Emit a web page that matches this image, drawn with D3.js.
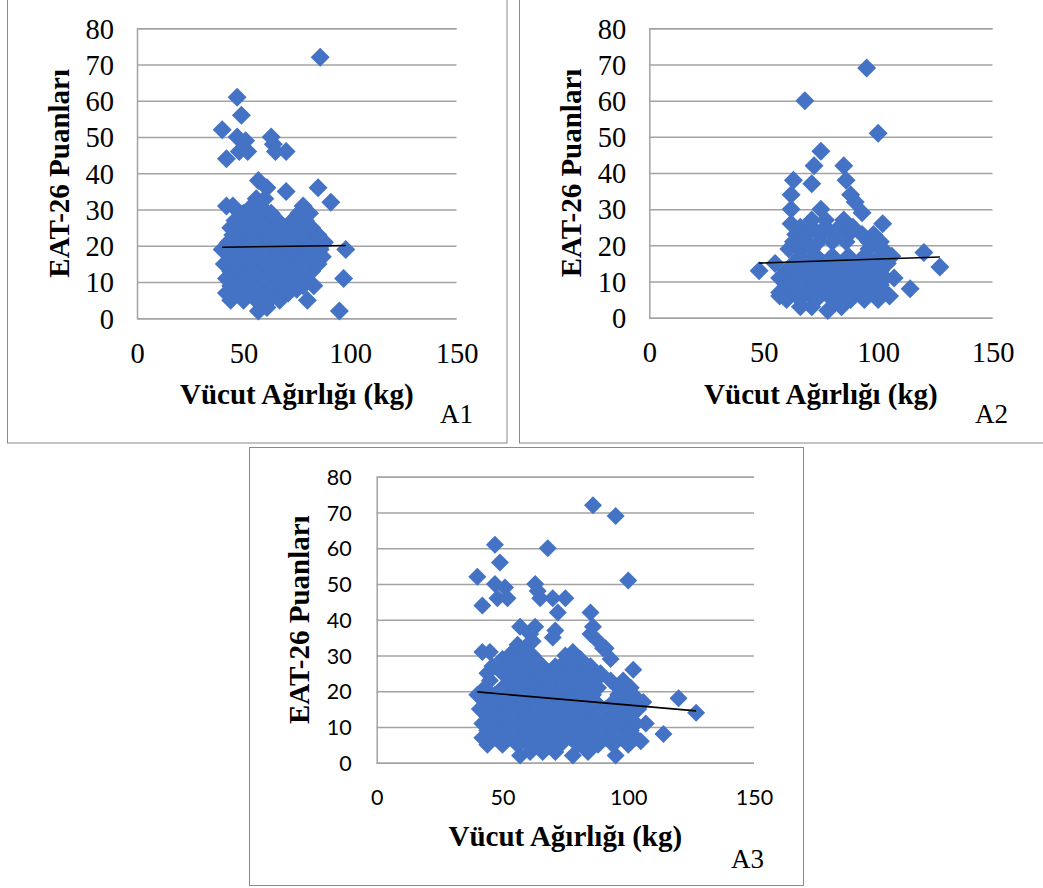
<!DOCTYPE html>
<html>
<head>
<meta charset="utf-8">
<script src="https://cdn.jsdelivr.net/npm/d3@7"></script>
<style>
  body { margin: 0; background: #ffffff; }
  svg { display: block; }
</style>
</head>
<body>
<svg id="chart" width="1043" height="888"></svg>
<script>
// Axis ticks and titles shared by the three scatter panels
const xTicks = [0, 50, 100, 150];
const yTicks = [0, 10, 20, 30, 40, 50, 60, 70, 80];
const xTitle = "Vücut Ağırlığı (kg)";
const yTitle = "EAT-26 Puanları";
const panelTags = ["A1", "A2", "A3"];

// Group A1: [body weight (kg), EAT-26 score]
const a1Points = [
  [86,72],[47,61],[49,56],[40,52],[47,50],[51,49],[48,46],[52,46],[42,44],
  [63,50],[64,48],[65,46],[70,46],[57,38],[61,36],[70,35],[85,36],[91,32],
  [98,19],[97,11],[95,2],[57,2],[61,3],[80,5],[83,9],[75,8],[45,31],
  [44,5],[50,5],[56,5],[62,5],[67,5],
  [42,7],[47,7],[53,7],[60,7],[66,7],[71,7],
  [44,9],[50,9],[57,9],[63,9],[69,9],[78,9],
  [42,11],[47,11],[53,11],[60,11],[66,11],[73,11],[79,11],
  [44,13],[50,13],[57,13],[63,13],[70,13],[76,13],[82,13],
  [41,15],[47,15],[53,15],[60,15],[66,15],[73,15],[79,15],[85,15],
  [44,17],[50,17],[57,17],[63,17],[70,17],[76,17],[82,17],[87,17],
  [40,19],[47,19],[53,19],[60,19],[66,19],[73,19],[79,19],[86,19],
  [43,21],[50,21],[57,21],[63,21],[70,21],[76,21],[82,21],[88,21],
  [45,23],[53,23],[60,23],[66,23],[73,23],[79,23],[85,23],
  [44,25],[50,25],[57,25],[63,25],[70,25],[76,25],[82,25],
  [46,27],[53,27],[60,27],[66,27],[73,27],[79,27],
  [50,29],[57,29],[63,29],[76,29],[81,29],
  [42,31],[54,31],[58,31],[78,31],
  [56,33],[60,33]
];

// Group A2: [body weight (kg), EAT-26 score]
const a2Points = [
  [95,69],[68,60],[100,51],[75,46],[72,42],[85,42],[71,37],[63,38],[86,38],
  [62,34],[88,34],[90,32],[62,30],[75,30],[93,29],[102,26],[62,26],
  [120,18],[127,14],[114,8],[48,13],[55,15],[57,6],[78,2],[71,3],
  [100,5],[105,6],[107,11],[106,17],[61,19],
  [71,27],[77,27],[85,27],
  [66,25],[71,25],[77,25],[83,25],[89,25],
  [64,23],[69,23],[75,23],[81,23],[87,23],[93,23],[98,23],
  [63,21],[68,21],[74,21],[80,21],[86,21],[96,21],[101,21],
  [66,19],[71,19],[96,19],[102,19],
  [66,17],[73,17],[80,17],[87,17],[94,17],[101,17],
  [63,15],[70,15],[77,15],[84,15],[91,15],[98,15],[104,15],
  [60,13],[66,13],[73,13],[80,13],[87,13],[94,13],[101,13],
  [57,11],[63,11],[70,11],[77,11],[84,11],[91,11],[98,11],[103,11],
  [60,9],[66,9],[73,9],[80,9],[87,9],[94,9],[101,9],
  [57,7],[63,7],[70,7],[77,7],[84,7],[91,7],[98,7],[103,7],
  [60,5],[66,5],[73,5],[80,5],[88,5],[94,5],
  [84,3],[66,3]
];

// Group A3 pools both groups
const a3Points = a1Points.concat(a2Points);

// Linear trend lines: [weight, fitted score] at the ends of each group's range
const a1Trend = [[40, 19.6], [98, 20.1]];
const a2Trend = [[48, 15.1], [127, 16.8]];
const a3Trend = [[40, 19.8], [127, 14.5]];

const svg = d3.select("#chart");

const SERIF = "'Liberation Serif', 'Times New Roman', serif";
const SANS = "Lato, 'Open Sans', sans-serif";
const BLUE = "#4472C4";
const GRID = "#a3a3a3";

const panels = [
  { tag: panelTags[0], points: a1Points, trend: a1Trend,
    frame: { x: 7.5, y: -3, w: 499.5, h: 446 },
    plot: { left: 137, right: 456.5, top: 28.3, bottom: 318.3 },
    tickFont: SERIF, tickSize: 28.5, digitRatio: 0.34, marker: 9.5,
    yLabelGap: 23, xLabelOffset: 35, xTitleBase: 86, yTitleOffset: 78,
    tagPos: [440, 422.5] },
  { tag: panelTags[1], points: a2Points, trend: a2Trend,
    frame: { x: 519.5, y: -3, w: 540, h: 446 },
    plot: { left: 649.3, right: 992.5, top: 28.3, bottom: 317.7 },
    tickFont: SERIF, tickSize: 28.5, digitRatio: 0.34, marker: 9.5,
    yLabelGap: 23, xLabelOffset: 35, xTitleBase: 86, yTitleOffset: 78,
    tagPos: [975, 423] },
  { tag: panelTags[2], points: a3Points, trend: a3Trend,
    frame: { x: 249.5, y: 447.5, w: 554, h: 438 },
    plot: { left: 376.7, right: 754, top: 476.7, bottom: 762.7 },
    tickFont: SANS, tickSize: 21.5, digitRatio: 0.36, marker: 9,
    yLabelGap: 25, xLabelOffset: 34.6, xTitleBase: 83, yTitleOffset: 77,
    tagPos: [731, 868] }
];

function drawPanel(p) {
  const g = svg.append("g").attr("class", "panel-" + p.tag);

  // outer chart frame
  g.append("rect")
    .attr("x", p.frame.x).attr("y", p.frame.y)
    .attr("width", p.frame.w).attr("height", p.frame.h)
    .attr("fill", "none").attr("stroke", "#8a8a8a").attr("stroke-width", 1);

  const x = d3.scaleLinear().domain([0, 150]).range([p.plot.left, p.plot.right]);
  const y = d3.scaleLinear().domain([0, 80]).range([p.plot.bottom, p.plot.top]);

  // horizontal gridlines (the 0 line doubles as the x axis)
  const yAxis = d3.axisLeft(y).tickValues(yTicks)
    .tickSize(-(p.plot.right - p.plot.left)).tickFormat(d3.format("d")).tickPadding(p.yLabelGap);
  const yg = g.append("g").attr("transform", `translate(${p.plot.left},0)`).call(yAxis);
  yg.select(".domain").attr("stroke", GRID).attr("stroke-width", 1.5);
  yg.selectAll(".tick line").attr("stroke", GRID).attr("stroke-width", 1.5);
  yg.selectAll(".tick text")
    .attr("font-family", p.tickFont).attr("font-size", p.tickSize)
    .attr("fill", "#000").attr("dy", null)
    .attr("dominant-baseline", "alphabetic")
    .attr("y", p.tickSize * p.digitRatio);

  // x tick labels, no tick marks
  const xAxis = d3.axisBottom(x).tickValues(xTicks).tickSize(0)
    .tickFormat(d3.format("d")).tickPadding(0);
  const xg = g.append("g").attr("transform", `translate(0,${p.plot.bottom})`).call(xAxis);
  xg.select(".domain").remove();
  xg.selectAll(".tick text")
    .attr("font-family", p.tickFont).attr("font-size", p.tickSize)
    .attr("fill", "#000").attr("dy", null)
    .attr("y", p.xLabelOffset + p.tickSize * p.digitRatio);

  // diamond markers
  const r = p.marker;
  g.append("g").selectAll("path").data(p.points).join("path")
    .attr("transform", d => `translate(${x(d[0])},${y(d[1])})`)
    .attr("d", `M0,${-r}L${r},0L0,${r}L${-r},0Z`)
    .attr("fill", BLUE);

  // linear trend line
  g.append("path")
    .datum(p.trend)
    .attr("d", d3.line().x(d => x(d[0])).y(d => y(d[1])))
    .attr("fill", "none").attr("stroke", "#000").attr("stroke-width", 1.6);

  // axis titles
  const cx = (p.plot.left + p.plot.right) / 2;
  const cy = (p.plot.top + p.plot.bottom) / 2;
  g.append("text")
    .attr("x", cx).attr("y", p.plot.bottom + p.xTitleBase)
    .attr("text-anchor", "middle")
    .attr("font-family", SERIF).attr("font-weight", "bold").attr("font-size", 29)
    .text(xTitle);
  g.append("text")
    .attr("transform", `translate(${p.plot.left - p.yTitleOffset + 9.5},${cy}) rotate(-90)`)
    .attr("text-anchor", "middle")
    .attr("font-family", SERIF).attr("font-weight", "bold").attr("font-size", 29)
    .text(yTitle);

  // panel tag
  g.append("text")
    .attr("x", p.tagPos[0]).attr("y", p.tagPos[1])
    .attr("font-family", SERIF).attr("font-size", 27)
    .text(p.tag);
}

panels.forEach(drawPanel);
</script>
</body>
</html>
